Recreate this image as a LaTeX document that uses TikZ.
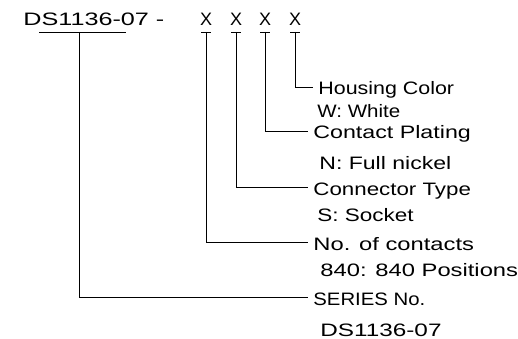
\documentclass[tikz,border=0pt]{standalone}
\usepackage{fontspec}
\usepackage{graphicx}
\setmainfont{Liberation Sans}
\usetikzlibrary{positioning}
\newcommand{\wideA}[2][1.25]{\scalebox{#1}[1]{#2}}
\tikzset{
	txtA/.style={
		inner sep=0pt, anchor=base west,
		font={\fontsize{18}{20}\selectfont}
	},
	lineA/.style={line width=0.8pt},
}

\begin{document}
\begin{tikzpicture}[
x=1pt, y=-1pt, every path/.style={lineA}
]
\useasboundingbox (0,0) rectangle (518,339);
% part number
\node [txtA] (title) at (23,26) {\wideA[1.4]{DS1136-07 -}};
\coordinate (ulA) at (39,32);
\coordinate (ulB) at (126,32);
\coordinate (ul) at (79,32);
\draw (ulA) -- (ulB);
\foreach \n/\x in {1/206,2/236,3/265,4/295}{
	\node [txtA, anchor=base] (x\n) at (\x,26) {X};
	\coordinate (t\n) at (\x,32);
	\draw ([xshift=-5pt]t\n) -- ([xshift=5pt]t\n);
}
% line ends
\coordinate (e4) at (313,87);
\coordinate (e3) at (308,131);
\coordinate (e2) at (308,187);
\coordinate (e1) at (308,242);
\coordinate (e0) at (308,297);
% labels
\node [txtA] (housing) at (318,95) {\wideA[1.19]{Housing Color}};
\node [txtA] (white) at (317,118) {\wideA[1.14]{W: White}};
\node [txtA] (plating) at (313,139) {\wideA[1.29]{Contact Plating}};
\node [txtA] (nickel) at (319,169) {\wideA[1.28]{N: Full nickel}};
\node [txtA] (ctype) at (313,195) {\wideA[1.24]{Connector Type}};
\node [txtA] (socket) at (317,221) {\wideA[1.25]{S: Socket}};
\node [txtA] (ncont) at (313,250) {\wideA[1.32]{No. of contacts}};
\node [txtA] (pos) at (320,276) {\wideA[1.32]{840: 840 Positions}};
\node [txtA] (series) at (313,305) {\wideA[1.13]{SERIES No.}};
\node [txtA] (sno) at (320,336) {\wideA[1.35]{DS1136-07}};
% connectors
\draw (t4) |- (e4);
\draw (t3) |- (e3);
\draw (t2) |- (e2);
\draw (t1) |- (e1);
\draw (ul) |- (e0);
\end{tikzpicture}
\end{document}
